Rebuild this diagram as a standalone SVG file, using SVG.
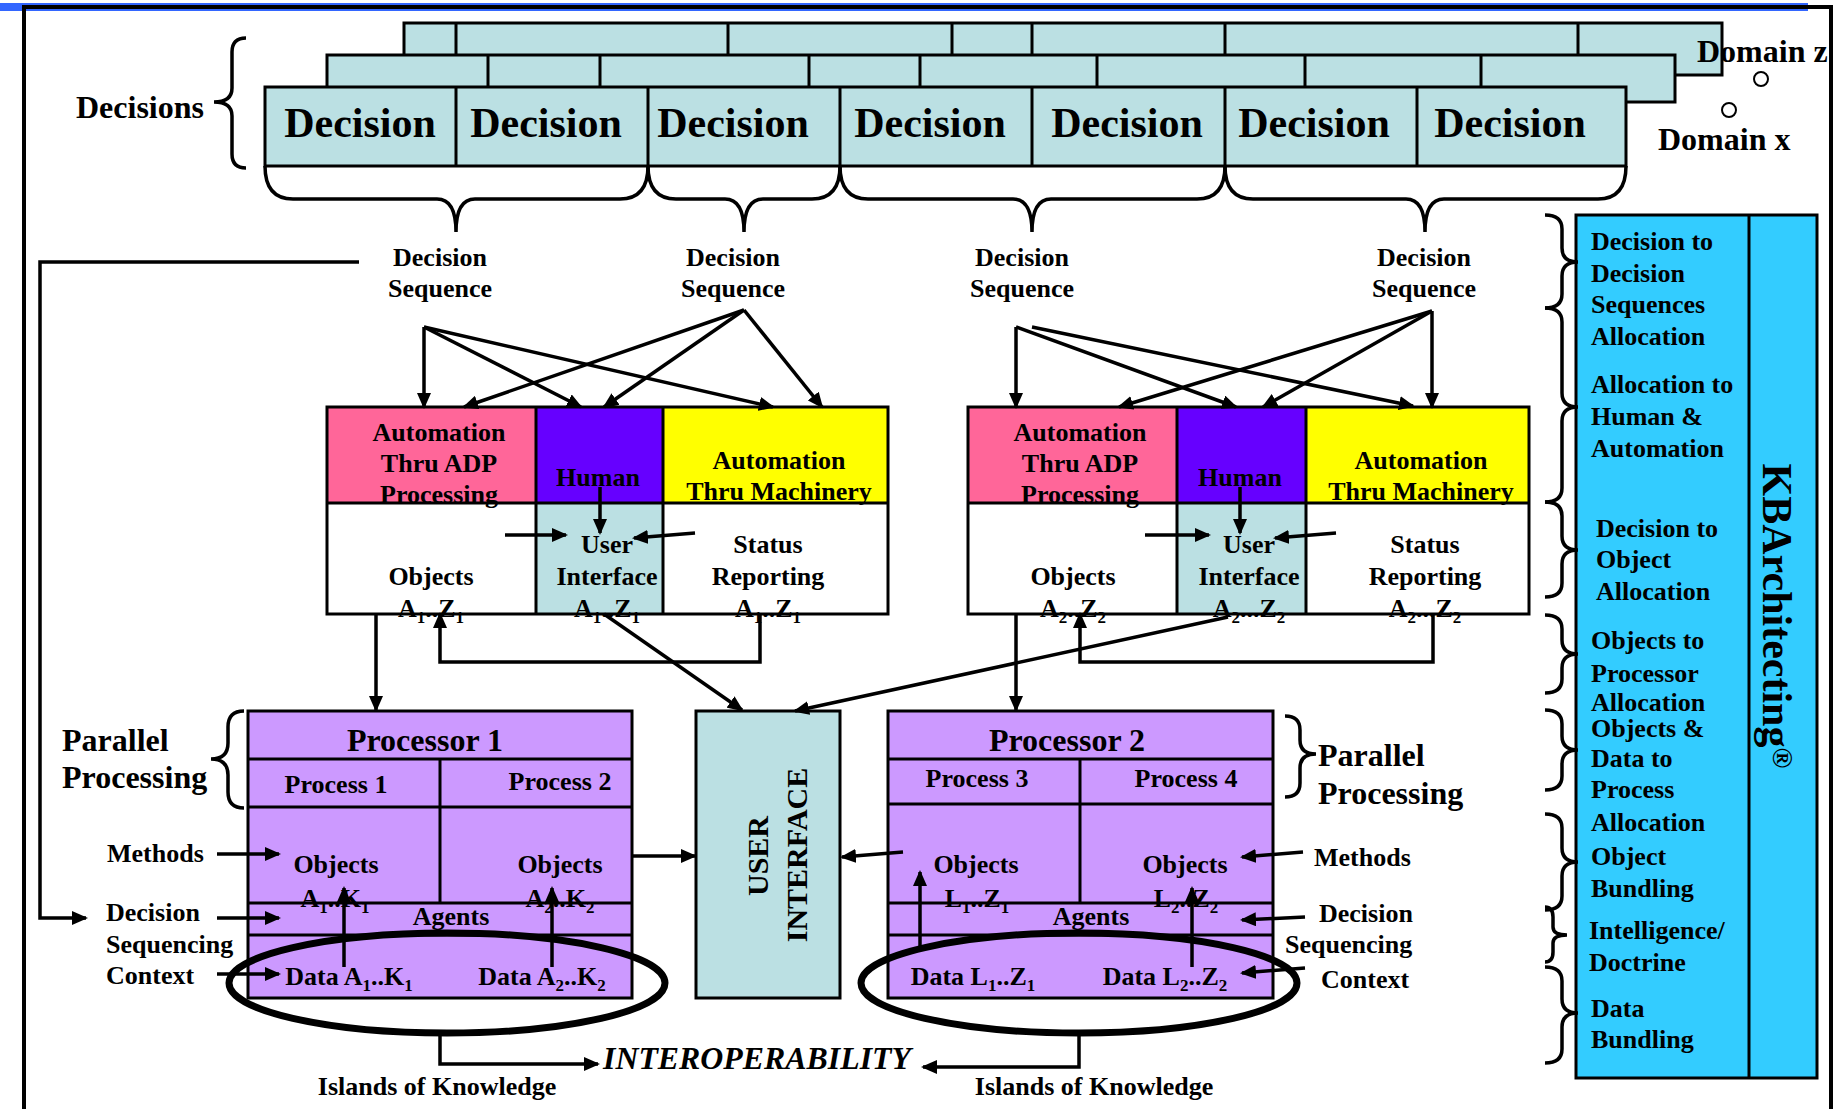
<svg xmlns="http://www.w3.org/2000/svg" width="1837" height="1109" viewBox="0 0 1837 1109">
<defs>
<marker id="ah" markerWidth="16" markerHeight="14" refX="14" refY="7" orient="auto" markerUnits="userSpaceOnUse"><path d="M0,0 L16,7 L0,14 z" fill="#000"/></marker>
<style>
text{font-family:"Liberation Serif","Times New Roman",serif;font-weight:bold;fill:#000}
.s26{font-size:26px}
.s32{font-size:32px}
.s42{font-size:42px}
.s30{font-size:30px}
.m{text-anchor:middle}
.sb{font-size:17px}
.dec{fill:#BBE0E3;stroke:#000;stroke-width:3}
.ln{stroke:#000;stroke-width:3;fill:none}
.cn{stroke:#000;stroke-width:3.5;fill:none}
.ar{stroke:#000;stroke-width:3.5;fill:none;marker-end:url(#ah)}
.br{stroke:#000;stroke-width:3.5;fill:none}
.proc{fill:#CC99FF;stroke:#000;stroke-width:3}
.ell{fill:none;stroke:#000;stroke-width:7}
</style>
</defs>
<rect width="1837" height="1109" fill="#fff"/>
<g id="frame">
<rect x="0" y="3" width="1808" height="8" fill="#3366FF"/>
<path d="M24,1109 L24,7 L1831,7 L1831,1109" fill="none" stroke="#000" stroke-width="4"/>
</g>

<g id="decisions">
<rect class="dec" x="404" y="23" width="1318" height="52"/>
<path class="ln" d="M456,23V55 M728,23V55 M952,23V55 M1032,23V55 M1225,23V55 M1578,23V55"/>
<rect class="dec" x="327" y="55" width="1348" height="47"/>
<path class="ln" d="M488,55V87 M600,55V87 M809,55V87 M920,55V87 M1097,55V87 M1305,55V87 M1481,55V87"/>
<rect class="dec" x="265" y="87" width="1361" height="79"/>
<path class="ln" d="M456,87V166 M648,87V166 M840,87V166 M1032,87V166 M1225,87V166 M1417,87V166"/>
<text class="s42 m" x="360" y="137">Decision</text>
<text class="s42 m" x="546" y="137">Decision</text>
<text class="s42 m" x="733" y="137">Decision</text>
<text class="s42 m" x="930" y="137">Decision</text>
<text class="s42 m" x="1127" y="137">Decision</text>
<text class="s42 m" x="1314" y="137">Decision</text>
<text class="s42 m" x="1510" y="137">Decision</text>
<text class="s32" x="76" y="118">Decisions</text>
<path class="br" d="M246,38 Q232,38 232,52 L232,88 Q232,102 214,102 Q232,102 232,116 L232,154 Q232,168 246,168"/>
<text class="s32" x="1697" y="62">Domain z</text>
<text class="s32" x="1658" y="150">Domain x</text>
<circle cx="1761" cy="79" r="7" fill="none" stroke="#000" stroke-width="2"/>
<circle cx="1729" cy="110" r="7" fill="none" stroke="#000" stroke-width="2"/>
<path class="br" d="M265,166 Q265,199 293,199 L437,199 Q456,199 456,232 Q456,199 475,199 L620,199 Q648,199 648,166"/>
<path class="br" d="M648,166 Q648,199 676,199 L725,199 Q744,199 744,232 Q744,199 763,199 L812,199 Q840,199 840,166"/>
<path class="br" d="M840,166 Q840,199 868,199 L1013,199 Q1032,199 1032,232 Q1032,199 1051,199 L1197,199 Q1225,199 1225,166"/>
<path class="br" d="M1225,166 Q1225,199 1253,199 L1406,199 Q1425,199 1425,232 Q1425,199 1444,199 L1598,199 Q1626,199 1626,166"/>
</g>

<g id="sequences">
<text class="s26 m" x="440" y="266">Decision</text><text class="s26 m" x="440" y="297">Sequence</text>
<text class="s26 m" x="733" y="266">Decision</text><text class="s26 m" x="733" y="297">Sequence</text>
<text class="s26 m" x="1022" y="266">Decision</text><text class="s26 m" x="1022" y="297">Sequence</text>
<text class="s26 m" x="1424" y="266">Decision</text><text class="s26 m" x="1424" y="297">Sequence</text>
</g>

<g id="alloc1">
<rect x="327" y="407" width="209" height="96" fill="#FF6699"/>
<rect x="536" y="407" width="127" height="96" fill="#6600FF"/>
<rect x="663" y="407" width="225" height="96" fill="#FFFF00"/>
<rect x="327" y="503" width="209" height="111" fill="#fff"/>
<rect x="536" y="503" width="127" height="111" fill="#BBE0E3"/>
<rect x="663" y="503" width="225" height="111" fill="#fff"/>
<rect class="ln" x="327" y="407" width="561" height="207"/>
<path class="ln" d="M327,503H888 M536,407V614 M663,407V614"/>
<text class="s26 m" x="439" y="441">Automation</text>
<text class="s26 m" x="439" y="472">Thru ADP</text>
<text class="s26 m" x="439" y="503">Processing</text>
<text class="s26 m" x="598" y="486">Human</text>
<text class="s26 m" x="779" y="469">Automation</text>
<text class="s26 m" x="779" y="500">Thru Machinery</text>
<text class="s26 m" x="431" y="585">Objects</text>
<text class="s26 m" x="431" y="617">A<tspan class="sb" dy="6">1</tspan><tspan dy="-6">..Z</tspan><tspan class="sb" dy="6">1</tspan></text>
<text class="s26 m" x="607" y="553">User</text>
<text class="s26 m" x="607" y="585">Interface</text>
<text class="s26 m" x="607" y="617">A<tspan class="sb" dy="6">1</tspan><tspan dy="-6">..Z</tspan><tspan class="sb" dy="6">1</tspan></text>
<text class="s26 m" x="768" y="553">Status</text>
<text class="s26 m" x="768" y="585">Reporting</text>
<text class="s26 m" x="768" y="617">A<tspan class="sb" dy="6">1</tspan><tspan dy="-6">..Z</tspan><tspan class="sb" dy="6">1</tspan></text>
</g>

<g id="alloc2">
<rect x="968" y="407" width="209" height="96" fill="#FF6699"/>
<rect x="1177" y="407" width="129" height="96" fill="#6600FF"/>
<rect x="1306" y="407" width="223" height="96" fill="#FFFF00"/>
<rect x="968" y="503" width="209" height="111" fill="#fff"/>
<rect x="1177" y="503" width="129" height="111" fill="#BBE0E3"/>
<rect x="1306" y="503" width="223" height="111" fill="#fff"/>
<rect class="ln" x="968" y="407" width="561" height="207"/>
<path class="ln" d="M968,503H1529 M1177,407V614 M1306,407V614"/>
<text class="s26 m" x="1080" y="441">Automation</text>
<text class="s26 m" x="1080" y="472">Thru ADP</text>
<text class="s26 m" x="1080" y="503">Processing</text>
<text class="s26 m" x="1240" y="486">Human</text>
<text class="s26 m" x="1421" y="469">Automation</text>
<text class="s26 m" x="1421" y="500">Thru Machinery</text>
<text class="s26 m" x="1073" y="585">Objects</text>
<text class="s26 m" x="1073" y="617">A<tspan class="sb" dy="6">2</tspan><tspan dy="-6">..Z</tspan><tspan class="sb" dy="6">2</tspan></text>
<text class="s26 m" x="1249" y="553">User</text>
<text class="s26 m" x="1249" y="585">Interface</text>
<text class="s26 m" x="1249" y="617">A<tspan class="sb" dy="6">2</tspan><tspan dy="-6">...Z</tspan><tspan class="sb" dy="6">2</tspan></text>
<text class="s26 m" x="1425" y="553">Status</text>
<text class="s26 m" x="1425" y="585">Reporting</text>
<text class="s26 m" x="1425" y="617">A<tspan class="sb" dy="6">2</tspan><tspan dy="-6">...Z</tspan><tspan class="sb" dy="6">2</tspan></text>
</g>

<g id="processor1">
<rect class="proc" x="248" y="711" width="384" height="287"/>
<path class="ln" d="M248,759H632 M248,807H632 M440,759V903 M248,903H632 M248,935H632"/>
<text class="s32 m" x="425" y="751">Processor 1</text>
<text class="s26 m" x="336" y="793">Process 1</text>
<text class="s26 m" x="560" y="790">Process 2</text>
<text class="s26 m" x="336" y="873">Objects</text>
<text class="s26 m" x="335" y="907">A<tspan class="sb" dy="6">1</tspan><tspan dy="-6">..K</tspan><tspan class="sb" dy="6">1</tspan></text>
<text class="s26 m" x="560" y="873">Objects</text>
<text class="s26 m" x="560" y="907">A<tspan class="sb" dy="6">2</tspan><tspan dy="-6">..K</tspan><tspan class="sb" dy="6">2</tspan></text>
<text class="s26 m" x="451" y="925">Agents</text>
<text class="s26 m" x="349" y="985">Data A<tspan class="sb" dy="6">1</tspan><tspan dy="-6">..K</tspan><tspan class="sb" dy="6">1</tspan></text>
<text class="s26 m" x="542" y="985">Data A<tspan class="sb" dy="6">2</tspan><tspan dy="-6">..K</tspan><tspan class="sb" dy="6">2</tspan></text>
</g>

<g id="processor2">
<rect class="proc" x="888" y="711" width="385" height="287"/>
<path class="ln" d="M888,759H1273 M888,804H1273 M1080,759V903 M888,903H1273 M888,935H1273"/>
<text class="s32 m" x="1067" y="751">Processor 2</text>
<text class="s26 m" x="977" y="787">Process 3</text>
<text class="s26 m" x="1186" y="787">Process 4</text>
<text class="s26 m" x="976" y="873">Objects</text>
<text class="s26 m" x="977" y="907">L<tspan class="sb" dy="6">1</tspan><tspan dy="-6">..Z</tspan><tspan class="sb" dy="6">1</tspan></text>
<text class="s26 m" x="1185" y="873">Objects</text>
<text class="s26 m" x="1186" y="907">L<tspan class="sb" dy="6">2</tspan><tspan dy="-6">..Z</tspan><tspan class="sb" dy="6">2</tspan></text>
<text class="s26 m" x="1091" y="925">Agents</text>
<text class="s26 m" x="973" y="985">Data L<tspan class="sb" dy="6">1</tspan><tspan dy="-6">..Z</tspan><tspan class="sb" dy="6">1</tspan></text>
<text class="s26 m" x="1165" y="985">Data L<tspan class="sb" dy="6">2</tspan><tspan dy="-6">..Z</tspan><tspan class="sb" dy="6">2</tspan></text>
</g>

<g id="userinterface">
<rect x="696" y="711" width="144" height="287" fill="#BBE0E3" stroke="#000" stroke-width="3"/>
<text class="s30 m" transform="translate(768,856) rotate(-90)">USER</text>
<text class="s30 m" transform="translate(807,855) rotate(-90)">INTERFACE</text>
</g>

<g id="labels">
<text class="s32" x="62" y="751">Parallel</text>
<text class="s32" x="62" y="788">Processing</text>
<path class="br" d="M244,711 Q228,711 228,727 L228,743 Q228,759 211,759 Q228,759 228,775 L228,792 Q228,808 244,808"/>
<text class="s32" x="1318" y="766">Parallel</text>
<text class="s32" x="1318" y="804">Processing</text>
<path class="br" d="M1285,716 Q1300,716 1300,730 L1300,740 Q1300,754 1316,754 Q1300,754 1300,768 L1300,783 Q1300,797 1285,797"/>
<text class="s26" x="107" y="862">Methods</text>
<text class="s26" x="106" y="921">Decision</text>
<text class="s26" x="106" y="953">Sequencing</text>
<text class="s26" x="106" y="984">Context</text>
<text class="s26" x="1314" y="866">Methods</text>
<text class="s26" x="1319" y="922">Decision</text>
<text class="s26" x="1285" y="953">Sequencing</text>
<text class="s26" x="1321" y="988">Context</text>
<text x="603" y="1069" font-size="31" font-style="italic" textLength="308" lengthAdjust="spacingAndGlyphs">INTEROPERABILITY</text>
<text class="s26 m" x="437" y="1095">Islands of Knowledge</text>
<text class="s26 m" x="1094" y="1095">Islands of Knowledge</text>
</g>

<g id="islands">
<ellipse class="ell" cx="447" cy="983" rx="218" ry="50"/>
<ellipse class="ell" cx="1079" cy="983" rx="218" ry="50"/>
</g>

<g id="kbpanel">
<rect x="1576" y="215" width="241" height="863" fill="#33CCFF" stroke="#000" stroke-width="3"/>
<path class="ln" d="M1749,215V1078"/>
<text class="s42 m" transform="translate(1763,616) rotate(90)">KBArchitecting<tspan font-size="28" dy="-10">®</tspan></text>
<text class="s26" x="1591" y="250">Decision to</text>
<text class="s26" x="1591" y="282">Decision</text>
<text class="s26" x="1591" y="313">Sequences</text>
<text class="s26" x="1591" y="345">Allocation</text>
<text class="s26" x="1591" y="393">Allocation to</text>
<text class="s26" x="1591" y="425">Human &amp;</text>
<text class="s26" x="1591" y="457">Automation</text>
<text class="s26" x="1596" y="537">Decision to</text>
<text class="s26" x="1596" y="568">Object</text>
<text class="s26" x="1596" y="600">Allocation</text>
<text class="s26" x="1591" y="649">Objects to</text>
<text class="s26" x="1591" y="682">Processor</text>
<text class="s26" x="1591" y="711">Allocation</text>
<text class="s26" x="1591" y="737">Objects &amp;</text>
<text class="s26" x="1591" y="767">Data to</text>
<text class="s26" x="1591" y="798">Process</text>
<text class="s26" x="1591" y="831">Allocation</text>
<text class="s26" x="1591" y="865">Object</text>
<text class="s26" x="1591" y="897">Bundling</text>
<text class="s26" x="1589" y="939">Intelligence/</text>
<text class="s26" x="1589" y="971">Doctrine</text>
<text class="s26" x="1591" y="1017">Data</text>
<text class="s26" x="1591" y="1048">Bundling</text>
<path class="br" d="M1545,215 Q1562,215 1562,229 L1562,248 Q1562,262 1578,262 Q1562,262 1562,276 L1562,294 Q1562,308 1545,308"/>
<path class="br" d="M1545,308 Q1562,308 1562,322 L1562,393 Q1562,407 1578,407 Q1562,407 1562,421 L1562,488 Q1562,502 1545,502"/>
<path class="br" d="M1545,502 Q1562,502 1562,516 L1562,536 Q1562,550 1578,550 Q1562,550 1562,564 L1562,583 Q1562,597 1545,597"/>
<path class="br" d="M1545,615 Q1562,615 1562,629 L1562,640 Q1562,654 1578,654 Q1562,654 1562,668 L1562,679 Q1562,693 1545,693"/>
<path class="br" d="M1545,710 Q1562,710 1562,724 L1562,736 Q1562,750 1578,750 Q1562,750 1562,764 L1562,776 Q1562,790 1545,790"/>
<path class="br" d="M1545,814 Q1562,814 1562,828 L1562,848 Q1562,862 1578,862 Q1562,862 1562,876 L1562,896 Q1562,910 1545,910"/>
<path class="br" d="M1545,907 Q1553,907 1553,917 L1553,927 Q1553,935 1567,935 Q1553,935 1553,943 L1553,952 Q1553,962 1545,962"/>
<path class="br" d="M1545,967 Q1562,967 1562,981 L1562,999 Q1562,1013 1578,1013 Q1562,1013 1562,1027 L1562,1049 Q1562,1063 1545,1063"/>
</g>

<g id="connectors">
<path class="ar" d="M424,327 L424,407"/>
<path class="ar" d="M424,327 L581,407"/>
<path class="ar" d="M424,327 L773,407"/>
<path class="ar" d="M744,310 L464,407"/>
<path class="ar" d="M744,310 L604,407"/>
<path class="ar" d="M744,310 L822,407"/>
<path class="ar" d="M1016,327 L1016,407"/>
<path class="ar" d="M1016,327 L1236,407"/>
<path class="ar" d="M1032,327 L1413,406"/>
<path class="ar" d="M1432,311 L1119,407"/>
<path class="ar" d="M1432,311 L1263,407"/>
<path class="ar" d="M1432,311 L1432,407"/>
<path class="ar" d="M600,487 L600,533"/>
<path class="ar" d="M505,535 L566,535"/>
<path class="ar" d="M695,533 L634,538"/>
<path class="ar" d="M1240,487 L1240,533"/>
<path class="ar" d="M1145,535 L1209,535"/>
<path class="ar" d="M1336,533 L1275,538"/>
<path class="ar" d="M376,614 L376,710"/>
<path class="ar" d="M760,614 L760,662 L440,662 L440,614"/>
<path class="ar" d="M604,614 L742,710"/>
<path class="ar" d="M1016,614 L1016,710"/>
<path class="ar" d="M1433,614 L1433,662 L1080,662 L1080,614"/>
<path class="ar" d="M1228,617 L795,711"/>
<path class="ar" d="M359,262 L40,262 L40,918 L86,918"/>
<path class="ar" d="M217,854 L279,854"/>
<path class="ar" d="M217,918 L279,918"/>
<path class="ar" d="M217,974 L279,974"/>
<path class="ar" d="M632,856 L695,856"/>
<path class="ar" d="M903,852 L842,857"/>
<path class="ar" d="M1303,852 L1242,857"/>
<path class="ar" d="M1305,917 L1242,920"/>
<path class="ar" d="M1305,968 L1242,973"/>
<path class="ar" d="M344,967 L344,888"/>
<path class="ar" d="M552,967 L552,888"/>
<path class="ar" d="M920,947 L920,872"/>
<path class="ar" d="M1192,967 L1192,888"/>
<path class="ar" d="M440,1032 L440,1064 L598,1064"/>
<path class="ar" d="M1079,1032 L1079,1067 L923,1067"/>
</g>
</svg>
